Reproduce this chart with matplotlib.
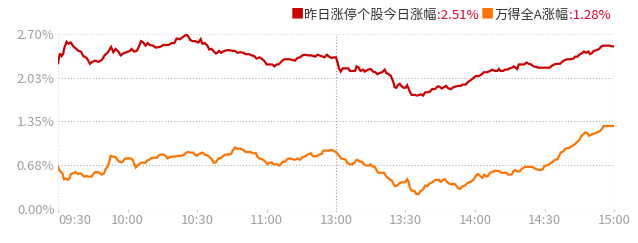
import matplotlib
matplotlib.use('Agg')
import matplotlib.pyplot as plt

# minutes since 09:30, lunch break removed (11:30 == 13:00 == 120)
red_min = [0, 0.4, 0.9, 1.6, 2.2, 2.7, 3.7, 4.5, 5.5, 6.6,
           7.6, 8.8, 9.9, 10.9, 12.4, 13.8, 14.8, 16.0, 17.4, 18.9,
           20.3, 21.4, 22.9, 23.9, 24.9, 26.0, 27.1, 28.2, 29.6, 31.1,
           31.8, 32.8, 34.0, 35.0, 35.8, 36.8, 37.8, 38.7, 39.7, 41.1,
           42.2, 44.0, 45.5, 47.6, 49.1, 50.2, 51.2, 52.7, 54.1, 55.5,
           56.3, 57.0, 58.0, 59.1, 60.6, 61.6, 62.3, 63.4, 64.5, 65.3,
           66.3, 67.0, 68.1, 68.8, 69.5, 70.4, 71.8, 73.1, 74.2, 75.2,
           76.4, 77.4, 78.8, 80.0, 81.0, 82.4, 83.6, 84.7, 85.7, 86.9,
           87.9, 88.9, 90.1, 91.5, 92.5, 93.4, 94.4, 95.1, 96.1, 96.8,
           97.7, 98.7, 100.1, 101.1, 102.3, 103.4, 104.5, 105.5, 106.6, 108.0,
           109.5, 110.9, 112.1, 113.5, 115.0, 116.1, 117.0, 118.1, 119.1, 120.0,
           120.6, 121.3, 122.0, 122.9, 125.3, 126.0, 128.2, 128.9, 129.6, 130.6,
           131.7, 132.4, 133.9, 135.0, 136.0, 137.0, 137.9, 138.9, 139.9, 141.0,
           141.7, 142.7, 143.6, 144.3, 144.9, 145.3, 146.0, 146.7, 147.5, 148.2,
           149.2, 150.0, 150.7, 151.3, 152.0, 152.7, 153.9, 155.0, 156.0, 156.7,
           157.6, 158.5, 159.6, 160.5, 161.5, 162.7, 163.9, 164.6, 165.6, 166.7,
           167.5, 168.5, 169.6, 170.7, 171.7, 172.7, 173.9, 174.6, 176.0, 177.0,
           178.2, 178.9, 179.9, 180.3, 181.7, 182.9, 183.9, 185.3, 186.5, 187.5,
           188.5, 189.6, 190.3, 191.0, 192.2, 192.9, 193.9, 195.0, 196.0, 196.7,
           197.5, 198.2, 198.9, 201.3, 202.2, 203.2, 204.2, 205.3, 206.7, 207.5,
           212.2, 213.2, 214.2, 215.3, 216.7, 217.9, 218.9, 219.9, 221.0, 222.5,
           223.2, 224.2, 225.0, 226.0, 227.0, 227.9, 228.9, 229.6, 230.3, 231.3,
           232.5, 233.6, 234.6, 235.3, 238.2, 238.9, 240.0]
red_pct = [2.25, 2.33, 2.40, 2.36, 2.39, 2.48, 2.58, 2.55, 2.57, 2.51,
           2.48, 2.44, 2.43, 2.36, 2.33, 2.24, 2.27, 2.29, 2.27, 2.30,
           2.38, 2.41, 2.50, 2.42, 2.47, 2.43, 2.37, 2.40, 2.42, 2.44,
           2.47, 2.43, 2.44, 2.51, 2.59, 2.57, 2.52, 2.56, 2.53, 2.52,
           2.49, 2.50, 2.53, 2.53, 2.56, 2.56, 2.63, 2.62, 2.66, 2.69,
           2.66, 2.61, 2.59, 2.59, 2.57, 2.62, 2.55, 2.56, 2.52, 2.46,
           2.47, 2.44, 2.40, 2.41, 2.44, 2.41, 2.44, 2.45, 2.45, 2.44,
           2.44, 2.41, 2.42, 2.41, 2.39, 2.39, 2.37, 2.36, 2.32, 2.34,
           2.32, 2.29, 2.23, 2.23, 2.23, 2.20, 2.23, 2.23, 2.26, 2.29,
           2.31, 2.31, 2.31, 2.30, 2.29, 2.33, 2.34, 2.37, 2.38, 2.37,
           2.37, 2.35, 2.38, 2.36, 2.34, 2.38, 2.35, 2.33, 2.34, 2.34,
           2.27, 2.17, 2.12, 2.17, 2.17, 2.13, 2.13, 2.20, 2.19, 2.13,
           2.15, 2.12, 2.15, 2.16, 2.12, 2.11, 2.08, 2.10, 2.11, 2.15,
           2.10, 2.08, 2.06, 2.00, 1.94, 1.88, 1.87, 1.91, 1.93, 1.90,
           1.87, 1.87, 1.91, 1.86, 1.80, 1.76, 1.76, 1.75, 1.76, 1.77,
           1.75, 1.80, 1.80, 1.81, 1.85, 1.85, 1.89, 1.89, 1.86, 1.88,
           1.90, 1.86, 1.85, 1.88, 1.89, 1.90, 1.90, 1.92, 1.92, 1.96,
           1.99, 2.01, 2.04, 2.05, 2.05, 2.08, 2.11, 2.11, 2.13, 2.15,
           2.13, 2.13, 2.16, 2.13, 2.13, 2.15, 2.15, 2.17, 2.18, 2.20,
           2.18, 2.16, 2.23, 2.23, 2.26, 2.24, 2.23, 2.20, 2.19, 2.18,
           2.18, 2.21, 2.23, 2.24, 2.24, 2.28, 2.30, 2.31, 2.31, 2.32,
           2.35, 2.35, 2.38, 2.40, 2.43, 2.41, 2.43, 2.39, 2.40, 2.44,
           2.45, 2.47, 2.51, 2.52, 2.52, 2.51, 2.51]

wind_min = [0, 0.4, 1.2, 1.9, 2.6, 3.5, 4.2, 4.9, 5.6, 6.6,
            7.6, 8.5, 9.5, 10.2, 11.2, 12.4, 13.1, 14.5, 15.3, 16.0,
            17.1, 18.1, 18.9, 19.9, 20.6, 21.3, 22.0, 22.7, 23.9, 24.9,
            25.6, 26.5, 27.5, 28.2, 28.9, 30.4, 31.5, 32.2, 32.8, 33.5,
            34.7, 35.4, 36.4, 37.6, 38.6, 39.4, 40.4, 41.6, 42.6, 43.6,
            44.5, 45.5, 46.5, 47.3, 48.3, 49.3, 50.8, 51.7, 53.1, 54.1,
            55.1, 56.0, 57.0, 58.4, 59.1, 59.9, 60.9, 62.3, 63.2, 64.2,
            65.2, 66.3, 67.3, 68.2, 69.2, 70.4, 71.4, 72.4, 73.5, 74.7,
            75.4, 76.4, 77.4, 78.8, 80.0, 81.0, 83.3, 84.0, 85.5, 86.0,
            86.9, 87.9, 88.9, 89.8, 90.4, 91.1, 92.2, 92.9, 93.9, 94.8,
            95.5, 96.2, 97.0, 98.0, 99.0, 100.1, 101.1, 102.3, 103.3, 104.5,
            105.5, 106.6, 107.8, 109.1, 109.9, 110.9, 111.9, 112.8, 113.8, 114.5,
            115.5, 116.7, 117.7, 118.4, 119.3, 120.0,
            120.7, 121.4, 122.2, 123.4, 124.2, 124.9, 126.0, 127.0, 127.9, 128.6,
            129.3, 130.3, 131.3, 132.0, 133.2, 134.2, 134.9, 135.6, 136.7, 137.5,
            138.2, 140.7, 141.7, 142.7, 143.6, 144.3, 144.9, 145.6, 146.7, 147.4,
            148.2, 149.2, 150.0, 150.7, 151.3, 151.7, 152.4, 153.2, 153.9, 154.6,
            155.6, 156.4, 157.5, 158.5, 159.3, 160.3, 161.5, 162.5, 163.6, 164.6,
            165.3, 166.3, 167.0, 167.9, 168.9, 169.9, 171.0, 171.7, 172.7, 173.6,
            174.6, 175.6, 176.7, 178.2, 178.9, 179.6, 180.3, 181.3, 182.2, 183.2,
            183.9, 184.9, 185.6, 186.5, 187.5, 188.5, 189.6, 190.6, 191.3, 193.5,
            194.2, 195.3, 196.0, 196.7, 197.5, 198.2, 199.3, 199.9, 200.7, 201.7,
            204.6, 205.7, 206.7, 208.2, 209.2, 209.9, 210.7, 211.7, 212.7, 213.6,
            214.6, 215.6, 216.5, 217.0, 218.2, 218.9, 219.9, 220.6, 221.3, 222.2,
            223.2, 223.9, 224.6, 225.3, 226.0, 226.7, 227.5, 228.5, 229.3, 230.3,
            231.3, 232.5, 233.9, 234.6, 235.6, 240.0]
wind_pct = [0.65, 0.61, 0.57, 0.55, 0.46, 0.47, 0.45, 0.47, 0.54, 0.55,
            0.57, 0.54, 0.55, 0.54, 0.50, 0.51, 0.50, 0.50, 0.54, 0.57,
            0.57, 0.55, 0.53, 0.55, 0.62, 0.65, 0.71, 0.82, 0.81, 0.80,
            0.76, 0.73, 0.72, 0.74, 0.78, 0.78, 0.78, 0.76, 0.71, 0.64,
            0.68, 0.70, 0.72, 0.71, 0.75, 0.76, 0.79, 0.79, 0.79, 0.83,
            0.84, 0.84, 0.82, 0.78, 0.80, 0.81, 0.81, 0.82, 0.82, 0.83,
            0.86, 0.88, 0.87, 0.87, 0.84, 0.82, 0.85, 0.87, 0.84, 0.83,
            0.81, 0.77, 0.71, 0.72, 0.78, 0.79, 0.82, 0.84, 0.84, 0.85,
            0.90, 0.95, 0.93, 0.93, 0.91, 0.88, 0.88, 0.86, 0.86, 0.81,
            0.78, 0.77, 0.75, 0.72, 0.69, 0.71, 0.72, 0.69, 0.69, 0.69,
            0.67, 0.69, 0.73, 0.73, 0.77, 0.78, 0.77, 0.76, 0.78, 0.76,
            0.80, 0.81, 0.84, 0.86, 0.82, 0.81, 0.82, 0.84, 0.85, 0.90,
            0.90, 0.90, 0.91, 0.91, 0.89, 0.88,
            0.85, 0.82, 0.78, 0.77, 0.76, 0.71, 0.69, 0.69, 0.71, 0.75,
            0.76, 0.73, 0.73, 0.69, 0.67, 0.67, 0.69, 0.66, 0.65, 0.60,
            0.56, 0.56, 0.50, 0.47, 0.45, 0.43, 0.38, 0.35, 0.37, 0.40,
            0.41, 0.41, 0.42, 0.46, 0.42, 0.35, 0.29, 0.28, 0.28, 0.23,
            0.23, 0.27, 0.30, 0.36, 0.35, 0.39, 0.41, 0.44, 0.45, 0.45,
            0.42, 0.45, 0.46, 0.42, 0.39, 0.38, 0.39, 0.37, 0.32, 0.31,
            0.35, 0.36, 0.40, 0.42, 0.44, 0.46, 0.51, 0.54, 0.51, 0.48,
            0.53, 0.50, 0.51, 0.56, 0.57, 0.59, 0.59, 0.58, 0.56, 0.56,
            0.53, 0.53, 0.54, 0.59, 0.60, 0.58, 0.58, 0.61, 0.63, 0.65,
            0.65, 0.63, 0.61, 0.60, 0.61, 0.66, 0.67, 0.68, 0.71, 0.73,
            0.76, 0.77, 0.83, 0.87, 0.89, 0.93, 0.94, 0.94, 0.96, 0.98,
            1.00, 1.03, 1.05, 1.08, 1.13, 1.15, 1.18, 1.17, 1.13, 1.15,
            1.16, 1.18, 1.20, 1.23, 1.28, 1.28]

y_ticks = [0.0, 0.675, 1.35, 2.025, 2.70]
y_labels = ['0.00%', '0.68%', '1.35%', '2.03%', '2.70%']
x_ticks = [0, 30, 60, 90, 120, 150, 180, 210, 240]
x_labels = ['09:30', '10:00', '10:30', '11:00', '13:00', '13:30', '14:00', '14:30', '15:00']

legend_parts = [('■', '#cc0000'), ('昨日涨停个股今日涨幅', '#333333'), (':2.51%', '#e4002b'),
                (' ■', '#ff7400'), ('万得全A涨幅', '#333333'), (':1.28%', '#e4002b')]

RED = '#cc0000'
ORANGE = '#ff7400'
GREY = '#a0a0a0'

plt.rcParams['font.family'] = ['Noto Sans CJK SC', 'DejaVu Sans']

W, H = 638, 243
fig = plt.figure(figsize=(W / 100, H / 100), dpi=100)
ax = fig.add_axes([58 / W, 1 - 209 / H, 556 / W, 175 / H])

dot = (0, (1, 2))
for y in y_ticks:
    c = '#d6d6d6' if y in (0.0, 2.70) else '#aaaaaa'
    ax.axhline(y, color=c, lw=0.75, ls=dot, zorder=1)
ax.axvline(0, color='#dddddd', lw=0.75, ls=dot, zorder=1)
ax.axvline(240, color='#dddddd', lw=0.75, ls=dot, zorder=1)
ax.axvline(120, color='#999999', lw=0.75, ls=dot, zorder=1)

ax.plot(wind_min, wind_pct, color=ORANGE, lw=1.6, solid_joinstyle='miter', zorder=3)
ax.plot(red_min, red_pct, color=RED, lw=1.6, solid_joinstyle='miter', zorder=3)

ax.set_xlim(0, 240)
ax.set_ylim(0, 2.70)
for s in ax.spines.values():
    s.set_visible(False)

ax.set_yticks(y_ticks)
ax.set_yticklabels(y_labels)
ax.set_xticks(x_ticks)
ax.set_xticklabels(x_labels)
ax.tick_params(axis='y', length=0, pad=2.5, labelsize=9.5, labelcolor=GREY)
ax.tick_params(axis='x', length=2, color='#cccccc', pad=1.5, labelsize=9.5, labelcolor=GREY)
ax.get_xticklabels()[0].set_ha('left')

# legend, chained text pieces
t = fig.text(291 / W, 1 - 15 / H, legend_parts[0][0], color=legend_parts[0][1],
             fontsize=9.5, va='center')
for s, c in legend_parts[1:]:
    t = ax.annotate(s, xy=(1, 0.5), xycoords=t, va='center', ha='left',
                    color=c, fontsize=9.5)

fig.savefig('out.png', dpi=100)
